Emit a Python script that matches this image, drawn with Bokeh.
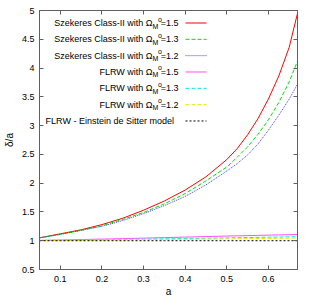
from bokeh.plotting import figure
from bokeh.models import Label, LinearAxis, FixedTicker, Arrow
from bokeh.embed import file_html
from bokeh.resources import INLINE

# ---------------- data ----------------
a_vals = [0.05, 0.10, 0.15, 0.20, 0.25, 0.30, 0.35, 0.40, 0.45, 0.50,
          0.525, 0.55, 0.575, 0.60, 0.625, 0.65, 0.67]
szek_15 = [1.05, 1.12, 1.19, 1.28, 1.39, 1.53, 1.69, 1.88, 2.11, 2.41,
           2.60, 2.84, 3.12, 3.46, 3.86, 4.36, 4.95]
szek_13 = [1.05, 1.11, 1.18, 1.26, 1.37, 1.49, 1.64, 1.82, 2.04, 2.28,
           2.45, 2.63, 2.85, 3.10, 3.40, 3.76, 4.12]
szek_12 = [1.05, 1.11, 1.18, 1.25, 1.35, 1.47, 1.61, 1.77, 1.97, 2.21,
           2.34, 2.49, 2.68, 2.92, 3.18, 3.46, 3.72]
flrw_15 = [1.006, 1.012, 1.020, 1.028, 1.036, 1.045, 1.054, 1.063, 1.072, 1.081,
           1.085, 1.089, 1.093, 1.097, 1.101, 1.105, 1.108]
flrw_13 = [1.004, 1.008, 1.012, 1.017, 1.022, 1.027, 1.032, 1.038, 1.043, 1.049,
           1.052, 1.055, 1.058, 1.061, 1.064, 1.067, 1.069]
flrw_12 = [1.003, 1.005, 1.008, 1.011, 1.014, 1.018, 1.021, 1.025, 1.029, 1.032,
           1.034, 1.036, 1.038, 1.040, 1.042, 1.044, 1.046]
eds = [1.0] * len(a_vals)

omega_labels = ["1.5", "1.3", "1.2", "1.5", "1.3", "1.2"]
legend_prefixes = ["Szekeres Class-II with \u03a9"] * 3 + ["FLRW with \u03a9"] * 3
eds_label = "FLRW - Einstein de Sitter model"

x_ticks = [0.1, 0.2, 0.3, 0.4, 0.5, 0.6]
x_tick_labels = ["0.1", "0.2", "0.3", "0.4", "0.5", "0.6"]
y_ticks = [0.5, 1.0, 1.5, 2.0, 2.5, 3.0, 3.5, 4.0, 4.5, 5.0]
y_tick_labels = ["0.5", "1", "1.5", "2", "2.5", "3", "3.5", "4", "4.5", "5"]

# ---------------- style ----------------
FONT = "Liberation Sans"
FRAME_COLOR = "#606060"
FW, FH = 258, 259

p = figure(frame_width=FW, frame_height=FH, x_range=(0.05, 0.67), y_range=(0.5, 5.0),
           output_backend="svg", toolbar_location=None,
           min_border_left=32, min_border_right=6, min_border_top=10, min_border_bottom=24)
p.xgrid.visible = False
p.ygrid.visible = False
p.outline_line_color = FRAME_COLOR
p.background_fill_color = "white"
p.border_fill_color = "white"

series = [
    (szek_15, "#ff0000", "solid"),
    (szek_13, "#00e400", "4 2"),
    (szek_12, "#4040ff", "1 1"),
    (flrw_15, "#ff50ff", "solid"),
    (flrw_13, "#00e8e8", "4 2"),
    (flrw_12, "#e8e800", "4 2"),
    (eds, "#000000", "2 2"),
]
for ys, col, dash in series:
    p.line(a_vals, ys, line_color=col, line_width=1, line_dash=dash)

xt = FixedTicker(ticks=x_ticks)
yt = FixedTicker(ticks=y_ticks)
p.xaxis[0].ticker = xt
p.yaxis[0].ticker = yt
p.xaxis[0].major_label_overrides = {v: s for v, s in zip(x_ticks, x_tick_labels)}
p.yaxis[0].major_label_overrides = {v: s for v, s in zip(y_ticks, y_tick_labels)}
p.xaxis[0].axis_label = "a"
p.yaxis[0].axis_label = "\u03b4/a"

for ax in (p.xaxis[0], p.yaxis[0]):
    ax.major_tick_in = 4
    ax.major_tick_out = 0
    ax.minor_tick_line_color = None
    ax.axis_line_color = FRAME_COLOR
    ax.major_tick_line_color = FRAME_COLOR
    ax.major_label_text_font = FONT
    ax.major_label_text_font_size = "9px"
    ax.major_label_text_color = "black"
    ax.axis_label_text_font = FONT
    ax.axis_label_text_font_size = "10px"
    ax.axis_label_text_font_style = "normal"
    ax.axis_label_text_color = "black"
p.xaxis[0].major_label_standoff = 6
p.xaxis[0].axis_label_standoff = 1
p.yaxis[0].major_label_standoff = 5
p.yaxis[0].axis_label_standoff = 4

# mirrored tick marks on the top and right sides (no labels)
for side, tk, so in (("above", xt, 9), ("right", yt, 5)):
    ax = LinearAxis(ticker=tk, major_tick_in=4, major_tick_out=0,
                    minor_tick_line_color=None, axis_line_color=FRAME_COLOR,
                    major_tick_line_color=FRAME_COLOR, major_label_text_font_size="1px",
                    major_label_text_color=None, major_label_standoff=so)
    p.add_layout(ax, side)

# ---------------- legend (frame-relative screen units, y up) ----------------
ROW0 = 246.5      # y of first row centre
ROW_H = 16.33
TXT_END = 139     # right end of the texts
SAMPLE_X0, SAMPLE_X1 = 146, 167

def txt(x, y, s, size, align):
    p.add_layout(Label(x=x, y=y, x_units="screen", y_units="screen", text=s,
                       text_align=align, text_baseline="middle", text_font=FONT,
                       text_font_size=size, text_color="black"))

for i, (pre, om) in enumerate(zip(legend_prefixes, omega_labels)):
    yc = ROW0 - i * ROW_H
    txt(TXT_END - 26, yc, pre, "9px", "right")
    txt(TXT_END - 26, yc - 3, "M", "7px", "left")
    txt(TXT_END - 20.5, yc + 4, "o", "7px", "left")
    txt(TXT_END, yc, "=" + om, "9px", "right")
txt(TXT_END - 4.5, ROW0 - 6 * ROW_H, eds_label, "9px", "right")

for i, (ys, col, dash) in enumerate(series):
    yc = ROW0 - i * ROW_H
    p.add_layout(Arrow(x_start=SAMPLE_X0, y_start=yc, x_end=SAMPLE_X1, y_end=yc,
                       start_units="screen", end_units="screen", start=None, end=None,
                       line_color=col, line_width=1, line_dash=dash))

open("out.html", "w").write(file_html(p, INLINE))
